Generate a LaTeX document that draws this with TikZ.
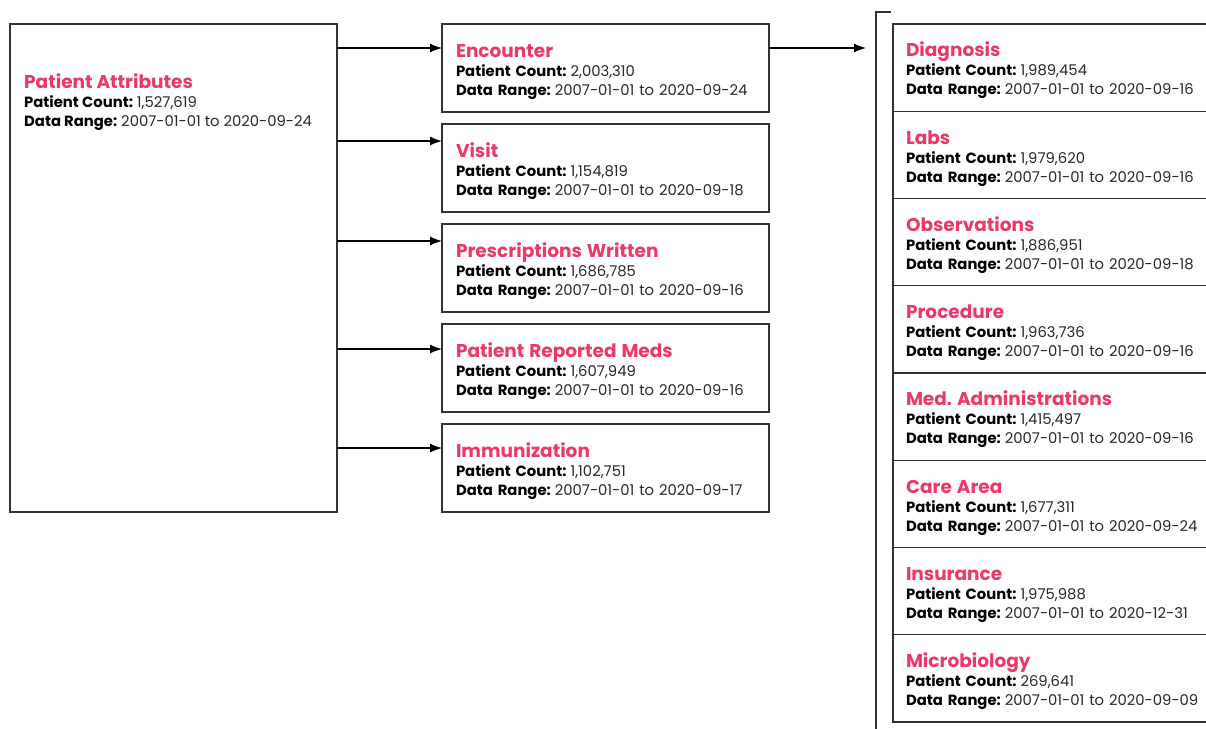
\documentclass[tikz,border=0pt]{standalone}
\usepackage{fontspec}
\setmainfont{Poppins}
\usetikzlibrary{positioning, arrows.meta}
\definecolor{titlepink}{RGB}{236,56,102}
\definecolor{linegray}{RGB}{50,50,50}
\definecolor{valuegray}{RGB}{40,40,40}
\newcommand{\tableinfo}[3]{\rule{0pt}{20.5pt}{\color{titlepink}\fontsize{18.5}{19}\selectfont\bfseries #1}\\
  \textbf{Patient Count:}\hspace{4pt}{\color{valuegray}#2}\\
  \textbf{Data Range:}\hspace{4pt}{\color{valuegray}#3}}
\tikzset{
    >={Latex[length=12pt,width=9pt]}, % filled arrow heads
    tablebox/.style={draw=linegray, line width=1.3pt, outer sep=0pt, align=left,
        font=\fontsize{14.8}{19}\selectfont, inner xsep=14pt}, % one data table
    midbox/.style={tablebox, text width=299pt, minimum height=88pt},
    sidebox/.style={tablebox, text width=320pt, minimum height=87.25pt, inner xsep=13pt},
    link/.style={->, line width=1.3pt, draw=black},
}
\begin{document}
\begin{tikzpicture}[x=1pt, y=-1pt]
    \useasboundingbox (0,0) rectangle (1206,728);
    % patient attributes
    \node[tablebox, minimum width=327pt, minimum height=488pt, anchor=north west] (attr) at (10,24) {};
    \node[anchor=north west, align=left, inner sep=0pt, font=\fontsize{14.8}{19}\selectfont] (attrtext) at (24,68)
        {\tableinfo{Patient Attributes}{1,527,619}{2007-01-01 to 2020-09-24}};
    % middle column
    \node[midbox, anchor=north west] (enc) at (442,24) {\tableinfo{Encounter}{2,003,310}{2007-01-01 to 2020-09-24}};
    \node[midbox, below=12pt of enc] (visit) {\tableinfo{Visit}{1,154,819}{2007-01-01 to 2020-09-18}};
    \node[midbox, below=12pt of visit] (presc) {\tableinfo{Prescriptions Written}{1,686,785}{2007-01-01 to 2020-09-16}};
    \node[midbox, below=12pt of presc] (prm) {\tableinfo{Patient Reported Meds}{1,607,949}{2007-01-01 to 2020-09-16}};
    \node[midbox, below=12pt of prm] (immu) {\tableinfo{Immunization}{1,102,751}{2007-01-01 to 2020-09-17}};
    % right column
    \node[sidebox, anchor=north west] (diag) at (893,24) {\tableinfo{Diagnosis}{1,989,454}{2007-01-01 to 2020-09-16}};
    \node[sidebox, below=0pt of diag] (labs) {\tableinfo{Labs}{1,979,620}{2007-01-01 to 2020-09-16}};
    \node[sidebox, below=0pt of labs] (obs) {\tableinfo{Observations}{1,886,951}{2007-01-01 to 2020-09-18}};
    \node[sidebox, below=0pt of obs] (proc) {\tableinfo{Procedure}{1,963,736}{2007-01-01 to 2020-09-16}};
    \node[sidebox, below=0pt of proc] (medadm) {\tableinfo{Med.\ Administrations}{1,415,497}{2007-01-01 to 2020-09-16}};
    \node[sidebox, below=0pt of medadm] (care) {\tableinfo{Care Area}{1,677,311}{2007-01-01 to 2020-09-24}};
    \node[sidebox, below=0pt of care] (ins) {\tableinfo{Insurance}{1,975,988}{2007-01-01 to 2020-12-31}};
    \node[sidebox, below=0pt of ins] (micro) {\tableinfo{Microbiology}{269,641}{2007-01-01 to 2020-09-09}};
    % bracket
    \coordinate (brk) at (876,12);
    \coordinate (brkin) at (866,48);
    \draw[linegray, line width=2.2pt] (891,12) -- (brk) -- (876,732);
    % arrows
    \draw[link] (attr.east |- 0,48) -- (enc.west |- 0,48);
    \draw[link] (attr.east |- 0,141) -- (visit.west |- 0,141);
    \draw[link] (attr.east |- 0,241) -- (presc.west |- 0,241);
    \draw[link] (attr.east |- 0,349) -- (prm.west |- 0,349);
    \draw[link] (attr.east |- 0,448) -- (immu.west |- 0,448);
    \draw[link] (enc.east |- brkin) -- (brkin);
\end{tikzpicture}
\end{document}
